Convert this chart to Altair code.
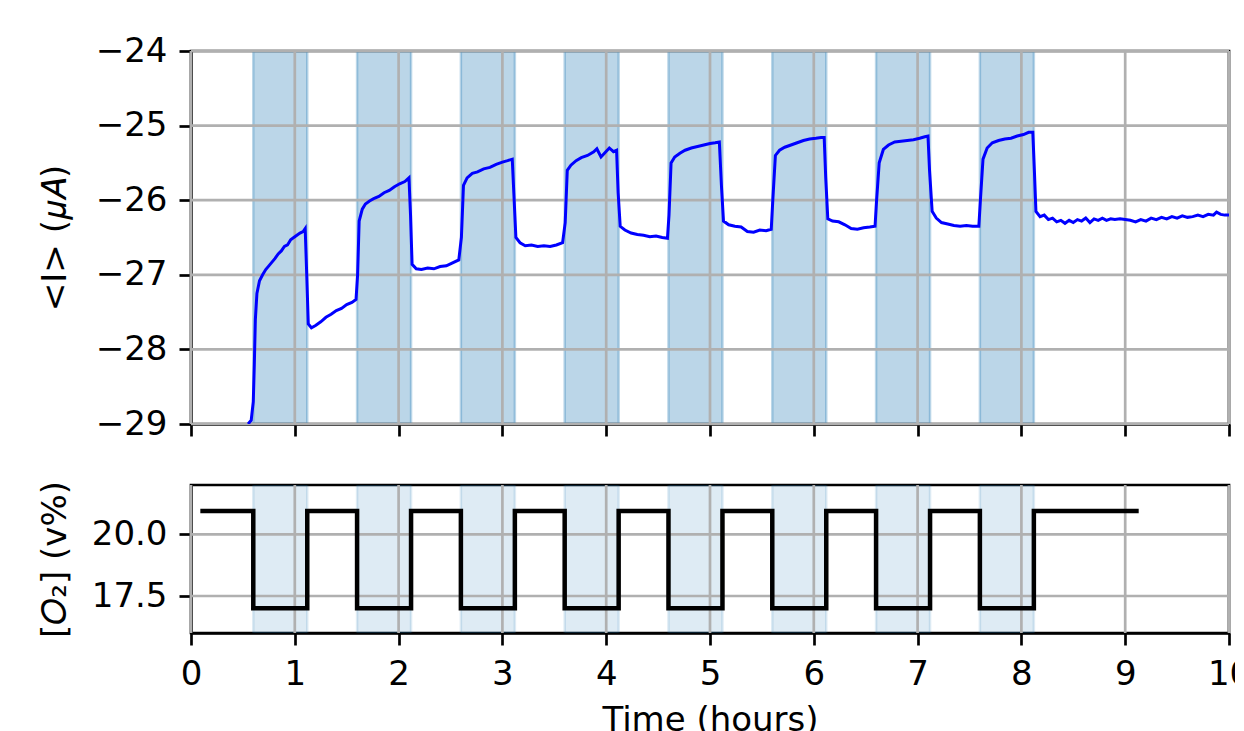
import altair as alt
import pandas as pd

# ---- data ----
time_h = [0.55, 0.58, 0.60, 0.61, 0.62, 0.635, 0.66, 0.69, 0.72, 0.75, 0.78, 0.81, 0.84, 0.87, 0.90, 0.93, 0.96, 0.99, 1.02, 1.05, 1.08, 1.10,
          1.115, 1.13, 1.16, 1.20, 1.25, 1.30, 1.35, 1.40, 1.45, 1.50, 1.55, 1.59,
          1.605, 1.62, 1.65, 1.68, 1.72, 1.76, 1.81, 1.86, 1.91, 1.96, 2.01, 2.06, 2.10,
          2.115, 2.13, 2.17, 2.22, 2.28, 2.34, 2.40, 2.46, 2.52, 2.58,
          2.605, 2.625, 2.66, 2.71, 2.76, 2.82, 2.88, 2.94, 3.00, 3.05, 3.095,
          3.11, 3.13, 3.17, 3.22, 3.28, 3.34, 3.40, 3.46, 3.52, 3.58,
          3.605, 3.625, 3.66, 3.71, 3.76, 3.82, 3.88, 3.91, 3.95, 3.99, 4.03, 4.07, 4.10,
          4.115, 4.135, 4.18, 4.24, 4.30, 4.36, 4.42, 4.48, 4.54, 4.59,
          4.605, 4.625, 4.66, 4.71, 4.76, 4.82, 4.88, 4.94, 5.00, 5.05, 5.09,
          5.11, 5.13, 5.18, 5.24, 5.30, 5.36, 5.42, 5.48, 5.54, 5.59,
          5.605, 5.63, 5.67, 5.72, 5.78, 5.84, 5.90, 5.96, 6.02, 6.07, 6.10,
          6.115, 6.135, 6.18, 6.24, 6.30, 6.36, 6.42, 6.48, 6.54, 6.59,
          6.605, 6.63, 6.67, 6.72, 6.78, 6.84, 6.90, 6.96, 7.02, 7.07, 7.10,
          7.115, 7.14, 7.18, 7.23, 7.29, 7.35, 7.41, 7.47, 7.53, 7.59,
          7.605, 7.63, 7.67, 7.72, 7.78, 7.84, 7.90, 7.96, 8.02, 8.07, 8.11,
          8.125, 8.14, 8.18, 8.22, 8.26, 8.30, 8.34, 8.38, 8.42, 8.46, 8.50, 8.54, 8.58, 8.62, 8.66, 8.70, 8.74, 8.78, 8.82,
          8.86, 8.90, 8.95, 9.00, 9.05, 9.10, 9.15, 9.20, 9.25, 9.30, 9.35, 9.40, 9.45, 9.50, 9.55, 9.60, 9.65, 9.70, 9.75,
          9.80, 9.85, 9.88, 9.92, 9.96, 10.0]
current_uA = [-29.0, -28.95, -28.7, -28.2, -27.6, -27.25, -27.08, -27.0, -26.93, -26.88, -26.83, -26.78, -26.72, -26.68, -26.62, -26.6, -26.53, -26.5, -26.47, -26.44, -26.42, -26.38,
              -27.0, -27.66, -27.71, -27.68, -27.63, -27.57, -27.53, -27.48, -27.45, -27.4, -27.37, -27.33,
              -27.0, -26.28, -26.12, -26.05, -26.01, -25.98, -25.95, -25.9, -25.87, -25.82, -25.78, -25.75, -25.7,
              -26.2, -26.86, -26.92, -26.93, -26.91, -26.92, -26.89, -26.88, -26.84, -26.8,
              -26.5, -25.8, -25.7, -25.64, -25.62, -25.58, -25.56, -25.52, -25.49, -25.47, -25.45,
              -25.9, -26.5, -26.57, -26.61, -26.6, -26.62, -26.61, -26.62, -26.6, -26.57,
              -26.3, -25.6, -25.53, -25.47, -25.43, -25.4, -25.35, -25.31, -25.42, -25.36, -25.3, -25.35, -25.33,
              -25.9, -26.35, -26.4, -26.44, -26.46, -26.47, -26.49, -26.48, -26.5, -26.51,
              -26.2, -25.5, -25.42, -25.37, -25.33, -25.3, -25.28, -25.26, -25.24, -25.23, -25.22,
              -25.8, -26.28, -26.33, -26.35, -26.36, -26.42, -26.43, -26.4, -26.41, -26.39,
              -26.0, -25.4, -25.33, -25.29, -25.26, -25.23, -25.2, -25.18, -25.17, -25.16, -25.16,
              -25.7, -26.25, -26.28, -26.29, -26.33, -26.38, -26.39, -26.37, -26.36, -26.35,
              -26.0, -25.5, -25.32, -25.26, -25.22, -25.21, -25.2, -25.19, -25.17, -25.15, -25.14,
              -25.6, -26.15, -26.24, -26.3, -26.32, -26.34, -26.35, -26.34, -26.35, -26.35,
              -26.0, -25.45, -25.3, -25.23, -25.2, -25.18, -25.17, -25.14, -25.12, -25.09, -25.09,
              -25.6, -26.15, -26.22, -26.2, -26.26, -26.24, -26.29, -26.27, -26.31, -26.27, -26.3, -26.26, -26.28, -26.24, -26.3, -26.25, -26.27, -26.24, -26.27,
              -26.25, -26.26, -26.25, -26.26, -26.27, -26.29, -26.26, -26.28, -26.24, -26.26, -26.23, -26.25, -26.22, -26.24, -26.21, -26.23, -26.22, -26.2, -26.22,
              -26.19, -26.2, -26.16, -26.19, -26.2, -26.2]

o2_time = [0.09, 0.6, 1.12, 1.6, 2.12, 2.6, 3.12, 3.6, 4.12, 4.6, 5.12, 5.6, 6.12, 6.6, 7.12, 7.6, 8.12, 9.13]
o2_level = [20.95, 17.0, 20.95, 17.0, 20.95, 17.0, 20.95, 17.0, 20.95, 17.0, 20.95, 17.0, 20.95, 17.0, 20.95, 17.0, 20.95, 20.95]

span_start = [0.6, 1.6, 2.6, 3.6, 4.6, 5.6, 6.6, 7.6]
span_end = [1.12, 2.12, 3.12, 4.12, 5.12, 6.12, 7.12, 8.12]

x_ticks = [0, 1, 2, 3, 4, 5, 6, 7, 8, 9, 10]
top_y_ticks = [-29, -28, -27, -26, -25, -24]
bot_y_ticks = [17.5, 20.0]

# ---- tables ----
trace = pd.DataFrame({"t": time_h, "I": current_uA})
o2 = pd.DataFrame({"t": o2_time, "o2": o2_level})
spans = pd.DataFrame({"start": span_start, "end": span_end})
xgrid = pd.DataFrame({"t": x_ticks})
ygrid_top = pd.DataFrame({"v": top_y_ticks})
ygrid_bot = pd.DataFrame({"v": bot_y_ticks})

FS = 34
LW = 2.7
GRID = "#b0b0b0"
C0 = "#1f77b4"

xscale = alt.Scale(domain=[0, 10], nice=False, zero=False)
yscale_top = alt.Scale(domain=[-29, -24], nice=False, zero=False)
yscale_bot = alt.Scale(domain=[16, 22], nice=False, zero=False)

common_axis = dict(grid=False, tickSize=12, tickWidth=LW, tickColor="black",
                   domainColor="black", domainWidth=LW, labelFontSize=FS,
                   labelColor="black", labelPadding=12, titleFontSize=FS,
                   titleFontWeight="normal", titleColor="black", labelFlush=False)

x_axis_top = alt.Axis(values=x_ticks, labels=False, title=None, **common_axis)
x_axis_bot = alt.Axis(values=x_ticks, format="d", title="Time (hours)",
                      titlePadding=12, **common_axis)
y_axis_top = alt.Axis(values=top_y_ticks, format="d", title="<I> (\U0001D707\U0001D434)",
                      titleX=-126, titleY=186.5, titleBaseline="alphabetic",
                      titleAngle=270, titleAlign="center", **common_axis)
y_axis_bot = alt.Axis(values=bot_y_ticks, format=".1f", title="[\U0001D442\u2082] (v%)",
                      titleX=-126, titleY=74, titleBaseline="alphabetic",
                      titleAngle=270, titleAlign="center", **common_axis)

W = 1038

# ---- top panel ----
top_spans = alt.Chart(spans).mark_rect(
    fill=C0, fillOpacity=0.3, stroke=C0, strokeOpacity=0.3, strokeWidth=2.5, clip=True
).encode(x=alt.X("start:Q", scale=xscale, axis=x_axis_top), x2="end:Q")
top_xgrid = alt.Chart(xgrid).mark_rule(color=GRID, strokeWidth=LW).encode(
    x=alt.X("t:Q", scale=xscale, axis=x_axis_top))
top_ygrid = alt.Chart(ygrid_top).mark_rule(color=GRID, strokeWidth=LW).encode(
    y=alt.Y("v:Q", scale=yscale_top, axis=y_axis_top))
top_line = alt.Chart(trace).mark_line(color="#0000ff", strokeWidth=3, clip=True).encode(
    x=alt.X("t:Q", scale=xscale, axis=x_axis_top),
    y=alt.Y("I:Q", scale=yscale_top, axis=y_axis_top),
    order="t:Q")
top = alt.layer(top_spans, top_xgrid, top_ygrid, top_line).properties(width=W, height=373)

# ---- bottom panel ----
bot_spans = alt.Chart(spans).mark_rect(
    fill=C0, fillOpacity=0.15, stroke=C0, strokeOpacity=0.15, strokeWidth=2.5, clip=True
).encode(x=alt.X("start:Q", scale=xscale, axis=x_axis_bot), x2="end:Q")
bot_xgrid = alt.Chart(xgrid).mark_rule(color=GRID, strokeWidth=LW).encode(
    x=alt.X("t:Q", scale=xscale, axis=x_axis_bot))
bot_ygrid = alt.Chart(ygrid_bot).mark_rule(color=GRID, strokeWidth=LW).encode(
    y=alt.Y("v:Q", scale=yscale_bot, axis=y_axis_bot))
bot_line = alt.Chart(o2).mark_line(color="black", strokeWidth=4.5, interpolate="step-after",
                                   clip=True).encode(
    x=alt.X("t:Q", scale=xscale, axis=x_axis_bot),
    y=alt.Y("o2:Q", scale=yscale_bot, axis=y_axis_bot),
    order="t:Q")
bottom = alt.layer(bot_spans, bot_xgrid, bot_ygrid, bot_line).properties(width=W, height=148)

chart = alt.vconcat(top, bottom, spacing=61, bounds="flush").properties(
    padding={"left": 28, "top": 24, "right": -17, "bottom": 0}
).configure(font="DejaVu Sans").configure_view(stroke="black", strokeWidth=LW)

chart.save("out.html", embed_options={"renderer": "svg", "actions": False})
